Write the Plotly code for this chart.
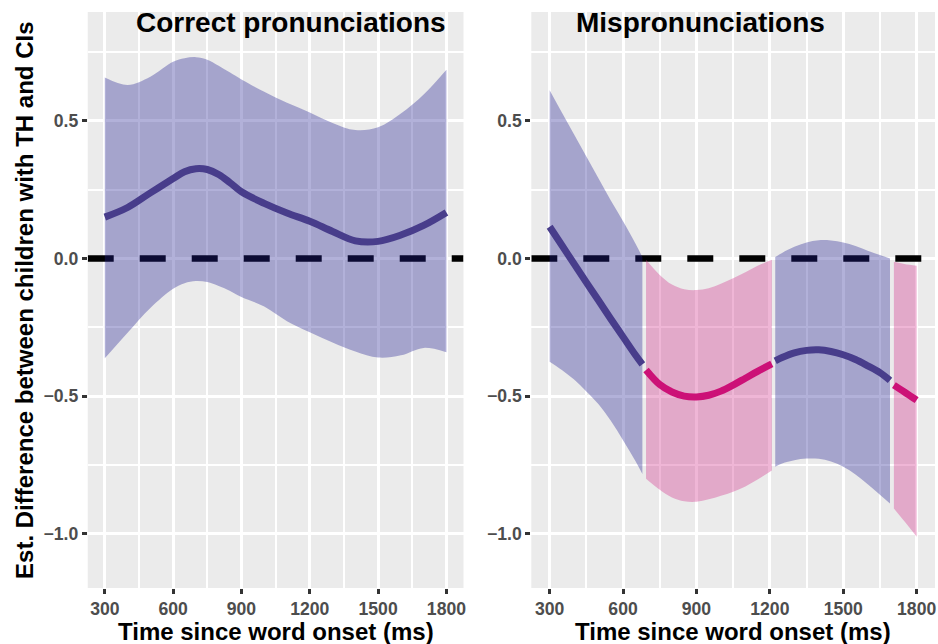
import plotly.graph_objects as go

# ---------------- data ----------------
# Correct pronunciations (left panel)
time_cp = [300, 400, 500, 600, 650, 700, 750, 800, 850, 900, 1000, 1100, 1200, 1300, 1400, 1500, 1600, 1700, 1800]
est_cp = [0.15, 0.185, 0.238, 0.29, 0.315, 0.326, 0.323, 0.305, 0.275, 0.242, 0.2, 0.165, 0.135, 0.098, 0.064, 0.062, 0.085, 0.12, 0.167]
upper_cp = [0.657, 0.63, 0.66, 0.714, 0.727, 0.731, 0.722, 0.70, 0.675, 0.65, 0.605, 0.565, 0.53, 0.492, 0.466, 0.476, 0.526, 0.595, 0.685]
lower_cp = [-0.363, -0.27, -0.18, -0.11, -0.09, -0.082, -0.086, -0.1, -0.118, -0.14, -0.175, -0.228, -0.268, -0.305, -0.338, -0.36, -0.352, -0.325, -0.341]

# Mispronunciations (right panel)
time_mp = [300, 350, 400, 450, 500, 550, 600, 650, 679,
           694, 750, 800, 850, 900, 950, 1000, 1050, 1100, 1150, 1208,
           1222, 1250, 1300, 1350, 1400, 1450, 1500, 1550, 1600, 1650, 1691,
           1707, 1750, 1800]
est_mp = [0.115, 0.048, -0.02, -0.087, -0.153, -0.22, -0.285, -0.35, -0.385,
          -0.405, -0.458, -0.485, -0.5, -0.503, -0.497, -0.482, -0.46, -0.435, -0.41, -0.383,
          -0.372, -0.36, -0.343, -0.334, -0.332, -0.338, -0.35, -0.367, -0.39, -0.415, -0.443,
          -0.46, -0.485, -0.515]
upper_mp = [0.611, 0.53, 0.45, 0.37, 0.29, 0.21, 0.135, 0.055, 0.005,
            -0.005, -0.06, -0.095, -0.112, -0.115, -0.108, -0.092, -0.072, -0.05, -0.027, -0.005,
            0.005, 0.02, 0.042, 0.058, 0.066, 0.065, 0.058, 0.045, 0.028, 0.012, 0.0,
            -0.012, -0.02, -0.027]
lower_mp = [-0.375, -0.405, -0.44, -0.483, -0.53, -0.59, -0.66, -0.735, -0.783,
            -0.8, -0.84, -0.868, -0.882, -0.884, -0.875, -0.862, -0.847, -0.828, -0.803, -0.77,
            -0.757, -0.745, -0.733, -0.727, -0.728, -0.738, -0.757, -0.785, -0.82, -0.858, -0.89,
            -0.908, -0.955, -1.011]
sig_mp = ["ns", "ns", "ns", "ns", "ns", "ns", "ns", "ns", "ns",
          "sig", "sig", "sig", "sig", "sig", "sig", "sig", "sig", "sig", "sig", "sig",
          "ns", "ns", "ns", "ns", "ns", "ns", "ns", "ns", "ns", "ns", "ns",
          "sig", "sig", "sig"]

panel_titles = ["Correct pronunciations", "Mispronunciations"]
x_title = "Time since word onset (ms)"
y_title = "Est. Difference between children with TH and CIs"
x_tickvals = [300, 600, 900, 1200, 1500, 1800]
x_ticktext = ["300", "600", "900", "1200", "1500", "1800"]
x_minor = [450, 750, 1050, 1350, 1650]
y_tickvals = [-1.0, -0.5, 0.0, 0.5]
y_ticktext = ["\u22121.0", "\u22120.5", "0.0", "0.5"]
y_minor = [-0.75, -0.25, 0.25, 0.75]
x_range = [225, 1875]
y_range = [-1.197, 0.895]
ref_value = 0.0

# ---------------- style ----------------
FONT = "Liberation Sans, Arial, Helvetica, sans-serif"
LINE_COL = {"ns": "#483D8B", "sig": "#CC1177"}
FILL_COL = {"ns": "rgba(35,32,146,0.35)", "sig": "rgba(209,46,138,0.35)"}
W, H = 938, 644
SMOOTH = 1.0

fig = go.Figure()


def segments(t, e, u, l, s):
    out = []
    start = 0
    for i in range(1, len(t) + 1):
        if i == len(t) or s[i] != s[start]:
            out.append((t[start:i], e[start:i], u[start:i], l[start:i], s[start]))
            start = i
    return out


panels = [
    ("x", "y", segments(time_cp, est_cp, upper_cp, lower_cp, ["ns"] * len(time_cp))),
    ("x2", "y2", segments(time_mp, est_mp, upper_mp, lower_mp, sig_mp)),
]

for xa, ya, segs in panels:
    # dashed zero reference line (drawn first, under ribbons)
    fig.add_trace(go.Scatter(x=x_range, y=[ref_value, ref_value], xaxis=xa, yaxis=ya, mode="lines",
                             line=dict(color="black", width=6.5, dash="26px,26px"),
                             hoverinfo="skip", showlegend=False, cliponaxis=True))
    for t, e, u, l, s in segs:
        fig.add_trace(go.Scatter(x=t, y=l, xaxis=xa, yaxis=ya, mode="lines",
                                 line=dict(width=0, shape="spline", smoothing=SMOOTH),
                                 hoverinfo="skip", showlegend=False))
        fig.add_trace(go.Scatter(x=t, y=u, xaxis=xa, yaxis=ya, mode="lines",
                                 line=dict(width=0, shape="spline", smoothing=SMOOTH),
                                 fill="tonexty", fillcolor=FILL_COL[s],
                                 hoverinfo="skip", showlegend=False))
    for t, e, u, l, s in segs:
        fig.add_trace(go.Scatter(x=t, y=e, xaxis=xa, yaxis=ya, mode="lines",
                                 line=dict(width=7, color=LINE_COL[s], shape="spline", smoothing=SMOOTH),
                                 showlegend=False))

dom_y = [1 - 588 / H, 1 - 12 / H]
xdoms = [[88 / W, 465 / W], [533 / W, 1.0]]

axis_common = dict(showline=False, zeroline=False, showgrid=True, gridcolor="white", gridwidth=2.8,
                   ticks="outside", ticklen=5, tickwidth=2.7, tickcolor="#333333",
                   tickfont=dict(family=FONT, size=17.6, color="#4D4D4D", weight="bold"),
                   tickmode="array")

for i, (xn, yn) in enumerate([("xaxis", "yaxis"), ("xaxis2", "yaxis2")]):
    fig.update_layout({
        xn: dict(axis_common, domain=xdoms[i], range=x_range, tickvals=x_tickvals, ticktext=x_ticktext,
                 anchor="y" if i == 0 else "y2",
                 minor=dict(tickvals=x_minor, showgrid=True, gridcolor="white", gridwidth=1.6)),
        yn: dict(axis_common, domain=dom_y, range=y_range, tickvals=y_tickvals, ticktext=y_ticktext,
                 anchor="x" if i == 0 else "x2",
                 minor=dict(tickvals=y_minor, showgrid=True, gridcolor="white", gridwidth=1.6)),
    })

ann = []
for txt, cx in zip(panel_titles, [291.5, 702.5]):
    ann.append(dict(text=txt, x=cx / W, y=1 - 23 / H, xref="paper", yref="paper",
                    xanchor="center", yanchor="middle", showarrow=False,
                    font=dict(family=FONT, size=28, color="black", weight="bold")))
for cx in [276.5, 735.5]:
    ann.append(dict(text=x_title, x=cx / W, y=1 - 631 / H, xref="paper", yref="paper",
                    xanchor="center", yanchor="middle", showarrow=False,
                    font=dict(family=FONT, size=24, color="black", weight="bold")))
ann.append(dict(text=y_title, x=24 / W, y=1 - 300 / H, xref="paper", yref="paper",
                xanchor="center", yanchor="middle", showarrow=False, textangle=-90,
                font=dict(family=FONT, size=24, color="black", weight="bold")))

fig.update_layout(width=W, height=H, margin=dict(l=0, r=0, t=0, b=0),
                  paper_bgcolor="white", plot_bgcolor="#EBEBEB",
                  annotations=ann, showlegend=False)

fig.write_html("out.html", config={"displayModeBar": False},
               post_script="document.body.style.margin='0';document.body.style.overflow='hidden';")
